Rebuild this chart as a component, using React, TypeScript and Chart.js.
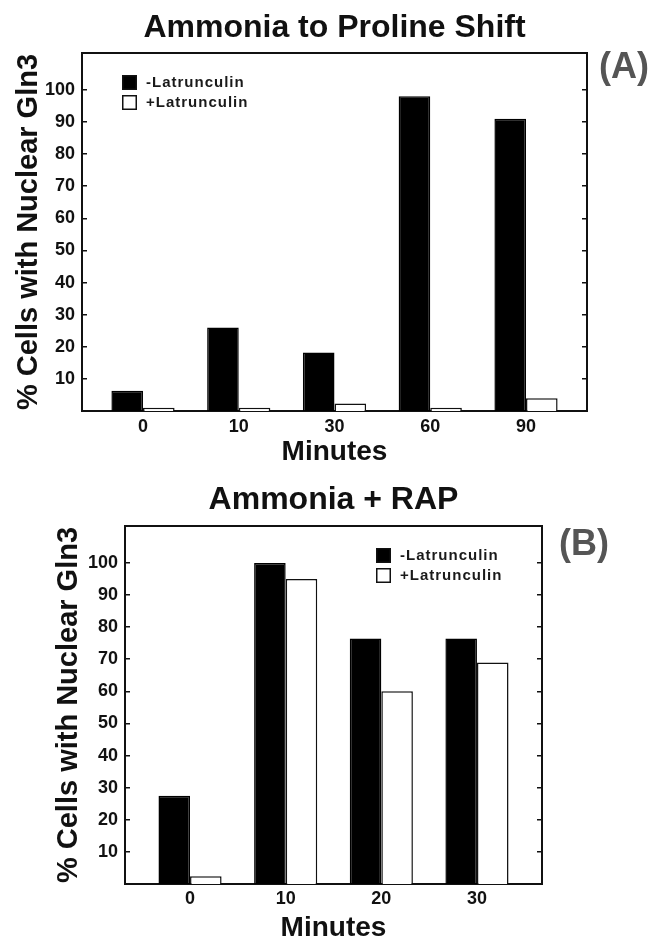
import React, { useEffect, useRef } from 'react';
import { Chart, registerables } from 'chart.js';

Chart.register(...registerables);

// ---------- data ----------
const minutesA = ['0', '10', '30', '60', '90'];
const minusLatA = [6.3, 26, 18.2, 98, 91];
const plusLatA = [1, 1, 2.3, 1, 4];

const minutesB = ['0', '10', '20', '30'];
const minusLatB = [27.5, 100, 76.5, 76.5];
const plusLatB = [2.4, 95, 60, 69];

const seriesLabels = ['-Latrunculin', '+Latrunculin'];
const yTickValues = [10, 20, 30, 40, 50, 60, 70, 80, 90, 100];
const titleA = 'Ammonia to Proline Shift';
const titleB = 'Ammonia + RAP';
const panelA = '(A)';
const panelB = '(B)';
const yTitle = '% Cells with Nuclear Gln3';
const xTitle = 'Minutes';

const FONT = '"Liberation Sans", Arial, Helvetica, sans-serif';
const INK = '#111';

Chart.defaults.font.family = FONT;
Chart.defaults.color = INK;

const panelDecor = {
  id: 'panelDecor',
  afterDraw(chart: any, _args: any, opts: any) {
    const { ctx, chartArea } = chart;
    ctx.save();
    chart.data.datasets.forEach((ds: any, i: number) => {
      const bx = chartArea.left + opts.legendX;
      const by = chartArea.top + opts.legendY + i * 20;
      ctx.fillStyle = ds.backgroundColor;
      ctx.fillRect(bx, by, 15, 15);
      ctx.strokeStyle = INK;
      ctx.lineWidth = 1.5;
      ctx.strokeRect(bx + 0.75, by + 0.75, 13.5, 13.5);
      ctx.fillStyle = '#1a1a1a';
      ctx.font = `bold 15px ${FONT}`;
      ctx.textBaseline = 'middle';
      ctx.textAlign = 'left';
      try { (ctx as any).letterSpacing = '1px'; } catch (e) {}
      ctx.fillText(ds.label, bx + 24, by + 8);
    });
    try { (ctx as any).letterSpacing = '0px'; } catch (e) {}
    ctx.font = `bold 36px ${FONT}`;
    ctx.fillStyle = '#555';
    ctx.textBaseline = 'middle';
    ctx.textAlign = 'left';
    ctx.fillText(opts.label, opts.labelX, opts.labelY);
    ctx.restore();
  },
};

function buildConfig(p: any) {
  const tickFont = { size: 18, weight: 'bold' as const };
  return {
    type: 'bar' as const,
    data: {
      datasets: [
        {
          label: seriesLabels[0],
          data: p.minus.map((v: number, i: number) => ({ x: i, y: v })),
          backgroundColor: '#000',
          borderColor: '#000',
          borderWidth: 1.5,
        },
        {
          label: seriesLabels[1],
          data: p.plus.map((v: number, i: number) => ({ x: i, y: v })),
          backgroundColor: '#fff',
          borderColor: INK,
          borderWidth: 1.5,
        },
      ],
    },
    options: {
      animation: false as const,
      responsive: false,
      devicePixelRatio: 1,
      layout: { padding: { left: 0, right: p.padRight, top: 0, bottom: 0 } },
      datasets: { bar: { categoryPercentage: 0.66, barPercentage: 1, borderSkipped: 'start' } },
      plugins: {
        legend: { display: false },
        tooltip: { enabled: false },
        title: {
          display: true,
          text: p.title,
          fullSize: false,
          color: INK,
          font: { size: 32, weight: 'bold' as const, lineHeight: 1.2 },
          padding: { top: p.titleTop, bottom: p.titleBottom },
        },
        panelDecor: {
          legendX: p.legendX,
          legendY: p.legendY,
          label: p.panel,
          labelX: p.labelX,
          labelY: p.labelY,
        },
      },
      scales: {
        x: {
          type: 'linear' as const,
          offset: false,
          min: p.xMin,
          max: p.xMax,
          afterBuildTicks: (s: any) => { s.ticks = p.cats.map((_: string, i: number) => ({ value: i })); },
          afterFit: (s: any) => { s.height = p.xHeight; },
          ticks: { callback: (v: any) => p.cats[v], font: tickFont, padding: p.xTickPad, color: INK, maxRotation: 0, autoSkip: false },
          grid: { display: false, drawTicks: false, offset: false },
          border: { display: true, width: 2, color: INK },
          title: {
            display: true,
            text: xTitle,
            color: INK,
            font: { size: 28, weight: 'bold' as const, lineHeight: 1 },
            padding: { top: 0, bottom: p.xTitlePad },
          },
        },
        x2: {
          type: 'linear' as const,
          position: 'top' as const,
          offset: false,
          min: p.xMin,
          max: p.xMax,
          ticks: { display: false },
          grid: { display: false, drawTicks: false, offset: false },
          border: { display: true, width: 2, color: INK },
          afterFit: (s: any) => { s.height = 0; },
        },
        y: {
          type: 'linear' as const,
          min: 0,
          max: 111.5,
          afterBuildTicks: (s: any) => { s.ticks = yTickValues.map((v) => ({ value: v })); },
          afterFit: (s: any) => { s.width = p.yWidth; },
          ticks: { font: tickFont, padding: 12, color: INK },
          grid: { display: true, drawOnChartArea: false, drawTicks: true, tickLength: -5, color: INK, lineWidth: 1.5 },
          border: { display: true, width: 2, color: INK },
          title: {
            display: true,
            text: yTitle,
            color: INK,
            font: { size: 29, weight: 'bold' as const, lineHeight: 1 },
            padding: { top: p.yTitlePad, bottom: 0 },
          },
        },
        y2: {
          type: 'linear' as const,
          position: 'right' as const,
          min: 0,
          max: 111.5,
          afterBuildTicks: (s: any) => { s.ticks = yTickValues.map((v) => ({ value: v })); },
          afterFit: (s: any) => { s.width = 0; },
          ticks: { display: false },
          grid: { display: true, drawOnChartArea: false, drawTicks: true, tickLength: -5, color: INK, lineWidth: 1.5 },
          border: { display: true, width: 2, color: INK },
        },
      },
    },
    plugins: [panelDecor],
  };
}

const configA = () =>
  buildConfig({
    cats: minutesA, minus: minusLatA, plus: plusLatA, title: titleA, panel: panelA,
    xMin: -0.637, xMax: 4.637, padRight: 68, yWidth: 82, xHeight: 59,
    titleTop: 8.6, titleBottom: 6, xTickPad: 5, xTitlePad: 4, yTitlePad: 14,
    legendX: 40, legendY: 22, labelX: 599, labelY: 68,
  });

const configB = () =>
  buildConfig({
    cats: minutesB, minus: minusLatB, plus: plusLatB, title: titleB, panel: panelB,
    xMin: -0.68, xMax: 3.68, padRight: 113, yWidth: 125, xHeight: 56,
    titleTop: 10.6, titleBottom: 7, xTickPad: 4.2, xTitlePad: -2, yTitlePad: 54,
    legendX: 251, legendY: 22, labelX: 559, labelY: 75,
  });

function ChartPanel({ make }: { make: () => any }) {
  const ref = useRef<HTMLCanvasElement | null>(null);
  useEffect(() => {
    if (!ref.current) return;
    const chart = new Chart(ref.current, make());
    return () => chart.destroy();
  }, [make]);
  return <canvas ref={ref} width={655} height={470} style={{ display: 'block', width: 655, height: 470 }} />;
}

export default function App() {
  return (
    <div style={{ position: 'absolute', left: 0, top: 0, width: 655, height: 940, background: '#fff' }}>
      <ChartPanel make={configA} />
      <ChartPanel make={configB} />
    </div>
  );
}
